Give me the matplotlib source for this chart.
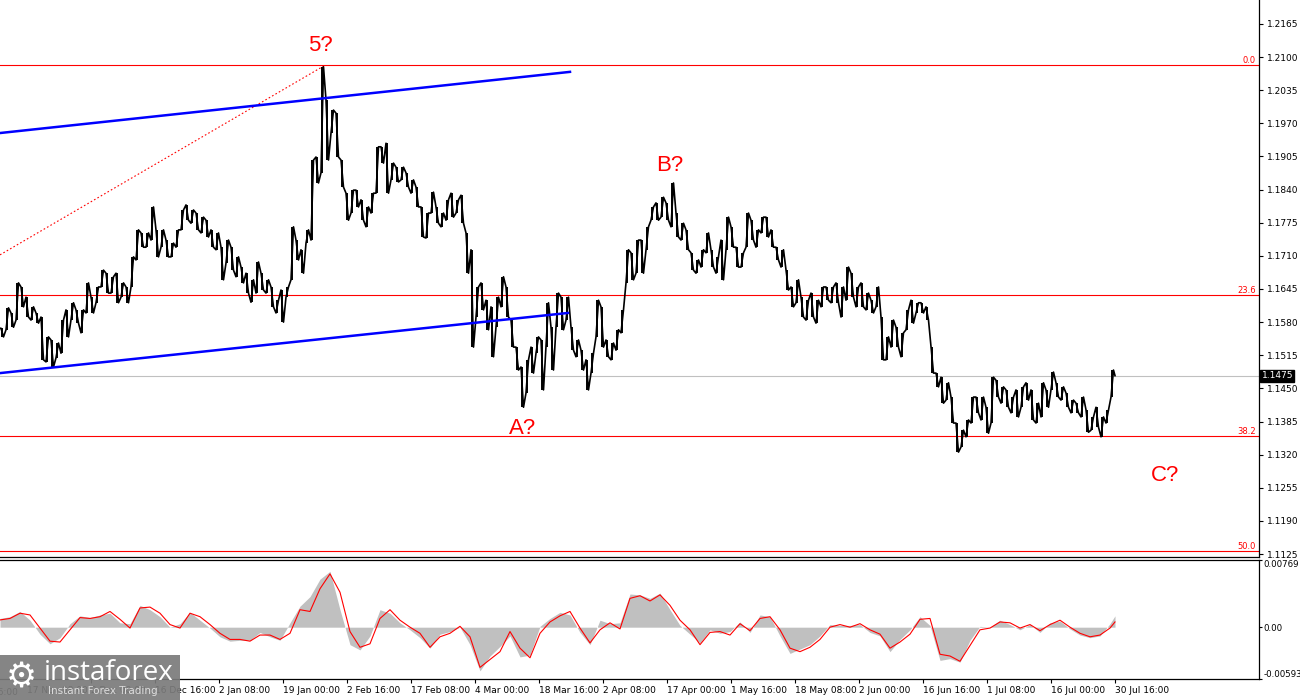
import matplotlib
matplotlib.use('Agg')
import matplotlib.pyplot as plt
import matplotlib.transforms as mtransforms
from matplotlib.patches import Rectangle
import numpy as np

# ---- price: high / low of every 5-bar block ----
bar_step = 5
price_hi = [
    1.1568, 1.1608, 1.1598, 1.1657, 1.1649, 1.1629, 1.1610, 1.1598, 1.1590, 1.1551,
    1.1545, 1.1539, 1.1584, 1.1604, 1.1618, 1.1604, 1.1604, 1.1657, 1.1629, 1.1649,
    1.1682, 1.1676, 1.1669, 1.1676, 1.1657, 1.1649, 1.1708, 1.1761, 1.1755, 1.1755,
    1.1806, 1.1761, 1.1761, 1.1741, 1.1735, 1.1761, 1.1800, 1.1810, 1.1800, 1.1794,
    1.1786, 1.1780, 1.1761, 1.1755, 1.1727, 1.1741, 1.1727, 1.1708, 1.1688, 1.1676,
    1.1663, 1.1698, 1.1676, 1.1663, 1.1649, 1.1623, 1.1643, 1.1649, 1.1767, 1.1741,
    1.1722, 1.1761, 1.1898, 1.1904, 1.2081, 1.2016, 1.1996, 1.1990, 1.1898, 1.1833,
    1.1839, 1.1839, 1.1820, 1.1806, 1.1833, 1.1924, 1.1924, 1.1931, 1.1892, 1.1884,
    1.1884, 1.1873, 1.1859, 1.1845, 1.1806, 1.1794, 1.1835, 1.1806, 1.1794, 1.1820,
    1.1833, 1.1820, 1.1829, 1.1755, 1.1722, 1.1649, 1.1657, 1.1623, 1.1610, 1.1629,
    1.1669, 1.1649, 1.1584, 1.1531, 1.1492, 1.1506, 1.1531, 1.1551, 1.1545, 1.1618,
    1.1570, 1.1637, 1.1629, 1.1629, 1.1570, 1.1545, 1.1525, 1.1506, 1.1519, 1.1623,
    1.1610, 1.1545, 1.1539, 1.1565, 1.1604, 1.1722, 1.1716, 1.1741, 1.1741, 1.1767,
    1.1806, 1.1814, 1.1825, 1.1814, 1.1853, 1.1794, 1.1774, 1.1761, 1.1716, 1.1702,
    1.1722, 1.1755, 1.1722, 1.1708, 1.1741, 1.1786, 1.1767, 1.1727, 1.1716, 1.1794,
    1.1780, 1.1761, 1.1786, 1.1786, 1.1761, 1.1727, 1.1722, 1.1682, 1.1649, 1.1663,
    1.1629, 1.1623, 1.1637, 1.1623, 1.1649, 1.1649, 1.1649, 1.1657, 1.1649, 1.1688,
    1.1676, 1.1649, 1.1657, 1.1637, 1.1623, 1.1649, 1.1590, 1.1551, 1.1584, 1.1570,
    1.1559, 1.1604, 1.1623, 1.1618, 1.1618, 1.1610, 1.1531, 1.1480, 1.1472, 1.1461,
    1.1433, 1.1382, 1.1368, 1.1388, 1.1433, 1.1433, 1.1433, 1.1413, 1.1472, 1.1466,
    1.1453, 1.1447, 1.1433, 1.1447, 1.1453, 1.1461, 1.1447, 1.1421, 1.1461, 1.1447,
    1.1482, 1.1461, 1.1453, 1.1441, 1.1427, 1.1421, 1.1433, 1.1408, 1.1394, 1.1413,
    1.1394, 1.1408, 1.1486,
]
price_lo = [
    1.1551, 1.1565, 1.1570, 1.1584, 1.1610, 1.1590, 1.1584, 1.1578, 1.1506, 1.1502,
    1.1492, 1.1510, 1.1519, 1.1551, 1.1584, 1.1578, 1.1559, 1.1598, 1.1598, 1.1618,
    1.1649, 1.1637, 1.1637, 1.1618, 1.1629, 1.1618, 1.1649, 1.1702, 1.1727, 1.1727,
    1.1741, 1.1708, 1.1727, 1.1708, 1.1708, 1.1727, 1.1761, 1.1780, 1.1774, 1.1761,
    1.1755, 1.1747, 1.1727, 1.1722, 1.1663, 1.1696, 1.1682, 1.1669, 1.1657, 1.1637,
    1.1619, 1.1637, 1.1643, 1.1637, 1.1610, 1.1598, 1.1580, 1.1629, 1.1663, 1.1702,
    1.1676, 1.1735, 1.1741, 1.1853, 1.1873, 1.1898, 1.1951, 1.1904, 1.1845, 1.1780,
    1.1794, 1.1806, 1.1780, 1.1767, 1.1794, 1.1833, 1.1892, 1.1833, 1.1859, 1.1855,
    1.1859, 1.1845, 1.1833, 1.1806, 1.1747, 1.1745, 1.1794, 1.1774, 1.1767, 1.1780,
    1.1786, 1.1794, 1.1774, 1.1676, 1.1531, 1.1590, 1.1604, 1.1565, 1.1512, 1.1570,
    1.1610, 1.1590, 1.1531, 1.1486, 1.1413, 1.1441, 1.1480, 1.1519, 1.1447, 1.1531,
    1.1486, 1.1570, 1.1565, 1.1584, 1.1525, 1.1512, 1.1486, 1.1447, 1.1480, 1.1551,
    1.1531, 1.1512, 1.1506, 1.1525, 1.1559, 1.1657, 1.1663, 1.1676, 1.1676, 1.1722,
    1.1780, 1.1780, 1.1786, 1.1780, 1.1767, 1.1747, 1.1741, 1.1722, 1.1682, 1.1676,
    1.1688, 1.1716, 1.1688, 1.1676, 1.1663, 1.1722, 1.1727, 1.1688, 1.1688, 1.1727,
    1.1741, 1.1727, 1.1755, 1.1747, 1.1727, 1.1702, 1.1688, 1.1643, 1.1610, 1.1618,
    1.1590, 1.1584, 1.1590, 1.1578, 1.1610, 1.1623, 1.1618, 1.1618, 1.1590, 1.1623,
    1.1629, 1.1610, 1.1610, 1.1604, 1.1598, 1.1610, 1.1506, 1.1506, 1.1531, 1.1531,
    1.1512, 1.1565, 1.1578, 1.1598, 1.1598, 1.1584, 1.1480, 1.1453, 1.1421, 1.1427,
    1.1382, 1.1325, 1.1335, 1.1355, 1.1382, 1.1402, 1.1388, 1.1362, 1.1382, 1.1433,
    1.1421, 1.1413, 1.1402, 1.1394, 1.1413, 1.1427, 1.1388, 1.1382, 1.1394, 1.1413,
    1.1447, 1.1433, 1.1427, 1.1413, 1.1402, 1.1402, 1.1394, 1.1364, 1.1368, 1.1374,
    1.1355, 1.1382, 1.1433,
]
last_close = 1.1475

# ---- oscillator (units of 1e-4), one value every 10 bars + last bar ----
osc_step = 10
osc_last_bar = 1115
osc_hist = [
    10, 12, 18, 8, -8, -19, -12, 4, 13, 11,
    14, 16, 5, 4, 25, 20, 12, 0, 4, 17,
    8, -1, -11, -16, -15, -15, -6, -11, -15, 5,
    24, 35, 55, 64, 20, -20, -26, -10, 20, 16,
    5, -3, -12, -24, -8, -5, 0, -20, -50, -33,
    -22, -10, -34, -32, 1, 10, 17, 14, -6, -20,
    8, 4, 5, 38, 37, 33, 39, 20, 2, -8,
    -18, -3, -7, -5, 6, -6, 14, 12, -10, -30,
    -25, -20, -10, 3, 2, 2, 3, -6, -10, -28,
    -14, -3, 12, 2, -38, -36, -40, -15, 1, 0,
    8, 3, -3, 3, -6, 5, 7, -2, -9, -12,
    -10, 4, 13,
]
osc_signal = [
    8.3, 10, 16, 14, -1, -16, -17, -3, 11, 10,
    12, 18, 9, -1, 22, 23, 16, 3, -1, 16,
    12, 3, -7, -14, -14, -16, -9, -9, -14, -7,
    20, 18, 44, 61, 40, -5, -23, -19, 10, 20,
    8, 0, -7, -23, -11, -7, 1, -11, -46, -37,
    -28, -5, -24, -35, -7, 6, 13, 18, -1, -18,
    -3, 5, -2, 33, 36, 30, 37, 25, 8, -3,
    -20, -6, -5, -9, 4, -4, 10, 12, -3, -24,
    -28, -23, -14, 0, 3, 0, 4, -3, -8, -24,
    -17, -8, 9, 10, -31, -33, -39, -21, -3, -1,
    6, 5, -1, 3, -4, 3, 8, 0, -7, -11,
    -9, -1, 6,
]
osc_min, osc_max = -0.00593, 0.00769

# ---- drawing objects ----
fib_high, fib_low = 1.2084, 1.0178
fib_levels = [0.0, 23.6, 38.2, 50.0]
fib_line_bars = [0, 325]
fib_line_prices = [1.1712, 1.2084]
chan_up_bars, chan_up_prices = [0, 570], [1.1951, 1.2071]
chan_lo_bars, chan_lo_prices = [0, 568], [1.1480, 1.1598]
wave_labels = ['5?', 'A?', 'B?', 'C?']
wave_bars = [320, 523, 670, 1165]
wave_prices = [1.2122, 1.1372, 1.1888, 1.1280]

time_labels = ['17 Nov 08:00', '2 Dec 00:00', '16 Dec 16:00', '2 Jan 08:00',
               '19 Jan 00:00', '2 Feb 16:00', '17 Feb 08:00', '4 Mar 00:00',
               '18 Mar 16:00', '2 Apr 08:00', '17 Apr 00:00', '1 May 16:00',
               '18 May 08:00', '2 Jun 00:00', '16 Jun 16:00', '1 Jul 08:00',
               '16 Jul 00:00', '30 Jul 16:00']
time_bars = [27, 91, 155, 219, 283, 347, 411, 475, 539, 603, 667, 731,
             795, 859, 923, 987, 1051, 1115]

RED = '#ff0000'
FS = 6.5
plt.rcParams['font.family'] = ['DejaVu Sans']

fig = plt.figure(figsize=(13, 7), dpi=100)
ax = fig.add_axes([0, 1 - 557 / 700, 1259 / 1300, 557 / 700])
axo = fig.add_axes([0, 1 - 679 / 700, 1259 / 1300, 119 / 700])
x_max = 1259

# price zigzag through each block's high and low
xs, ys = [0], [price_hi[0]]
for i, (h, l) in enumerate(zip(price_hi, price_lo)):
    b = i * bar_step
    if abs(ys[-1] - l) < abs(ys[-1] - h):
        first, second = l, h
    else:
        first, second = h, l
    xs += [b + 1, b + 3.5]
    ys += [first, second]
xs.append(len(price_hi) * bar_step)
ys.append(last_close)
bin_x = np.arange(len(price_hi)) * bar_step + 2.5

for lvl in fib_levels:
    p = fib_high - lvl / 100 * (fib_high - fib_low)
    ax.axhline(p, color=RED, lw=0.8, zorder=2)
    ax.text(x_max - 3, p, '%.1f' % lvl, color=RED, fontsize=6, ha='right', va='bottom')

ax.axhline(last_close, color='#c0c0c0', lw=0.8, zorder=1)
ax.plot(fib_line_bars, fib_line_prices, color=RED, lw=0.8, ls=(0, (1.5, 2)), zorder=2)
ax.vlines(bin_x, price_lo, price_hi, color='black', lw=1.4, zorder=3)
ax.plot(xs, ys, color='black', lw=1.2, zorder=3)
ax.plot(chan_up_bars, chan_up_prices, color='#0000ff', lw=1.8, zorder=4)
ax.plot(chan_lo_bars, chan_lo_prices, color='#0000ff', lw=1.8, zorder=4)

for t, b, p in zip(wave_labels, wave_bars, wave_prices):
    ax.text(b, p, t, color=RED, fontsize=16, family='Liberation Sans', ha='center', va='center')

ax.set_xlim(0, x_max)
ax.set_ylim(1.11192, 1.2212)
ax.set_xticks([])
yt = np.arange(1.1125, 1.2166, 0.0065)
ax.set_yticks(yt)
ax.set_yticklabels(['%.4f' % v for v in yt])
ax.yaxis.tick_right()
ax.tick_params(axis='y', direction='out', length=3, width=0.8, labelsize=FS, pad=3)
for s in ['left', 'top']:
    ax.spines[s].set_visible(False)
for s in ['right', 'bottom']:
    ax.spines[s].set_linewidth(0.9)

trans = mtransforms.blended_transform_factory(ax.transAxes, ax.transData)
ax.text(1.002, last_close, '%.4f' % last_close, transform=trans, color='white',
        fontsize=FS, va='center', ha='left',
        bbox=dict(boxstyle='square,pad=0.15', fc='black', ec='black'))

# oscillator
osc_x = list(range(0, osc_last_bar, osc_step)) + [osc_last_bar]
hist = np.array(osc_hist) * 1e-4
sig = np.array(osc_signal) * 1e-4
axo.fill_between(osc_x, 0, hist, color='#c0c0c0', lw=0)
axo.plot(osc_x, sig, color=RED, lw=0.8)
axo.set_xlim(0, x_max)
axo.set_ylim(osc_min, osc_max)
axo.yaxis.tick_right()
axo.set_yticks([osc_min, 0, osc_max])
axo.set_yticklabels(['-0.00593', '0.00', '0.00769'])
axo.tick_params(axis='y', direction='out', length=2, width=0.8, labelsize=6.2, pad=1)
labs = axo.get_yticklabels()
labs[0].set_va('bottom')
labs[2].set_va('top')
axo.set_xticks(time_bars)
axo.set_xticklabels(time_labels)
axo.tick_params(axis='x', direction='out', length=3, width=0.8, labelsize=FS, pad=2)
for lab in axo.get_xticklabels():
    lab.set_ha('left')
axo.spines['left'].set_visible(False)
for s in ['right', 'bottom', 'top']:
    axo.spines[s].set_linewidth(0.9)
axo.text(-37, -0.075, '2 Nov 16:00', transform=mtransforms.blended_transform_factory(axo.transData, axo.transAxes),
         fontsize=FS, ha='left', va='top', clip_on=False)

# logo
fig.add_artist(Rectangle((0, 0), 180 / 1300, 45 / 700, transform=fig.transFigure,
                         facecolor='#7b7b7b', edgecolor='none', alpha=0.92, zorder=5))
fig.text(6 / 1300, 23 / 700, '\u2699', fontsize=25, color='white', va='center', zorder=6)
fig.text(44 / 1300, 27 / 700, 'instaforex', fontsize=20, color='white',
         family='Open Sans', va='center', zorder=6)
fig.text(48 / 1300, 9 / 700, 'Instant Forex Trading', fontsize=7.5, color='#dddddd',
         va='center', zorder=6)

fig.savefig('out.png', dpi=100)
